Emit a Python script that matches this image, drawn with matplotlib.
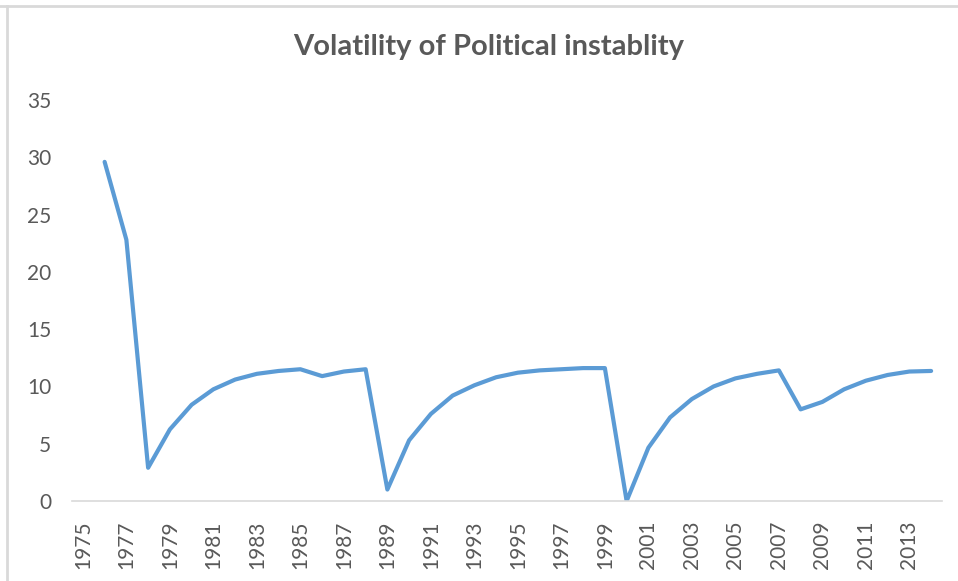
import matplotlib.pyplot as plt
import numpy as np
from matplotlib.lines import Line2D

# data (1975 has no value)
years = np.arange(1975, 2015)
volatility = [np.nan,
              29.6, 22.8, 2.9, 6.25, 8.4, 9.75, 10.6, 11.1, 11.35, 11.5,
              10.9, 11.3, 11.5, 1.0, 5.3, 7.6, 9.2, 10.1, 10.8, 11.2,
              11.4, 11.5, 11.6, 11.6, 0.0, 4.65, 7.3, 8.9, 10.0, 10.7,
              11.1, 11.4, 8.0, 8.65, 9.75, 10.5, 11.0, 11.3, 11.35]
ytick_vals = [0, 5, 10, 15, 20, 25, 30, 35]
xtick_years = list(range(1975, 2014, 2))

W, H = 958, 581
plt.rcParams['font.family'] = ['Lato', 'DejaVu Sans']
grey = '#595959'

fig = plt.figure(figsize=(W / 100, H / 100), dpi=100)
ax = fig.add_axes([72 / W, 80 / H, 870 / W, 401 / H])

ax.plot(years, volatility, color='#5B9BD5', linewidth=3.0, solid_joinstyle='round', solid_capstyle='round')

ax.set_xlim(1974.5, 2014.5)
ax.set_ylim(0, 35)
ax.set_yticks(ytick_vals)
ax.set_xticks(xtick_years)
ax.set_xticklabels([str(y) for y in xtick_years], rotation=90)
ax.tick_params(axis='both', length=0, labelsize=15, colors=grey)
ax.tick_params(axis='y', pad=15)
ax.tick_params(axis='x', pad=14)

for s in ['top', 'right', 'left']:
    ax.spines[s].set_visible(False)
ax.spines['bottom'].set_color('#d9d9d9')
ax.spines['bottom'].set_linewidth(1.2)

# chart border (top and left visible)
fig.add_artist(Line2D([0, 1], [1 - 6 / H, 1 - 6 / H], color='#d9d9d9', lw=2, transform=fig.transFigure))
fig.add_artist(Line2D([7 / W, 7 / W], [0, 1 - 6 / H], color='#d9d9d9', lw=2, transform=fig.transFigure))

fig.text(489 / W, 1 - 47 / H, 'Volatility of Political instablity', ha='center', va='center',
         fontsize=21, fontweight='bold', color=grey)

fig.savefig('out.png', dpi=100)
